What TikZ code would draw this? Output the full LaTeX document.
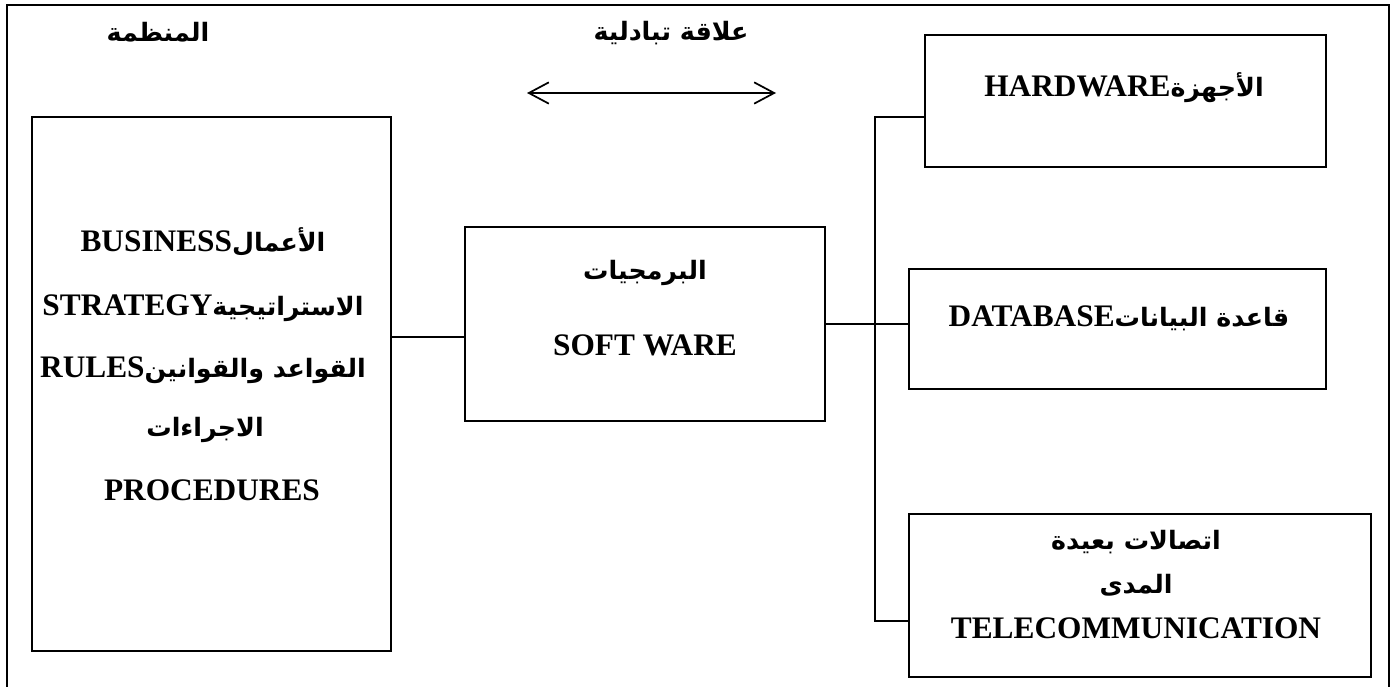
\documentclass[tikz,border=0pt]{standalone}
\usepackage{fontspec}
\setmainfont{Liberation Serif}
\newfontfamily\arabicfont[Script=Arabic]{DejaVu Sans}
\TeXXeTstate=1
\usetikzlibrary{arrows.meta}
\newcommand\artxt[1]{{\arabicfont\bfseries\fontsize{19}{23}\selectfont\beginR #1\endR}}
\newcommand\lattxt[1]{{\bfseries\fontsize{23.5}{28}\selectfont #1}}
\tikzset{
  box/.style={draw, line width=0.8pt, minimum width=#1, inner sep=0pt},
  lbl/.style={inner sep=0pt, anchor=center},
  conn/.style={line width=1.1pt},
  frame/.style={line width=1pt},
}
\begin{document}
\begin{tikzpicture}[x=0.75pt,y=-0.75pt]
\useasboundingbox (0,0) rectangle (1394,686);
\begin{scope}
\clip (0,0) rectangle (1394,686);
\draw[frame] (7,700) -- (7,5) -- (1389,5) -- (1389,700);
\end{scope}

% boxes
\node[box=269.25pt, minimum height=400.5pt] (lbox) at (211.5,384) {};
\node[box=270pt, minimum height=145.5pt] (mid) at (645,324) {};
\node[box=300.75pt, minimum height=99pt] (hw) at (1125.5,101) {};
\node[box=312.75pt, minimum height=90pt] (db) at (1117.5,329) {};
\node[box=346.5pt, minimum height=122.25pt, line width=1pt] (tel) at (1140,595.5) {};

% top labels
\node[lbl] (org) at (158,32) {\artxt{المنظمة}};
\node[lbl] (rel) at (671,33) {\artxt{علاقة تبادلية}};
\coordinate (arL) at (527,93);
\coordinate (arR) at (776,93);
\draw[line width=1.4pt, {Straight Barb[length=15pt,width=16pt,line width=1.3pt]}-{Straight Barb[length=15pt,width=16pt,line width=1.3pt]}] (arL) -- (arR);

% left box text
\node[lbl] (l1) at (203,242) {\lattxt{BUSINESS}\artxt{الأعمال}};
\node[lbl] (l2) at (203,308) {\lattxt{STRATEGY}\artxt{الاستراتيجية}};
\node[lbl] (l3) at (203,370) {\lattxt{RULES}\artxt{القواعد والقوانين}};
\node[lbl] (l4) at (205,430) {\artxt{الاجراءات}};
\node[lbl] (l5) at (212,490) {\lattxt{PROCEDURES}};

% middle
\node[lbl] (m1) at (645,273) {\artxt{البرمجيات}};
\node[lbl] (m2) at (645,345) {\lattxt{SOFT WARE}};

% right
\node[lbl] (h1) at (1124,88) {\lattxt{HARDWARE}\artxt{الأجهزة}};
\node[lbl] (d1) at (1119,318) {\lattxt{DATABASE}\artxt{قاعدة البيانات}};
\node[lbl] (t1) at (1136,542) {\artxt{اتصالات بعيدة}};
\node[lbl] (t2) at (1136,585) {\artxt{المدى}};
\node[lbl] (t3) at (1136,628) {\lattxt{TELECOMMUNICATION}};

% connectors
\coordinate (c1) at (0,337);
\draw[conn] (lbox.east |- c1) -- (mid.west |- c1);
\draw[conn] (mid.east) -- (db.west |- mid.east);
\coordinate (bustop) at (875,117);
\coordinate (busbot) at (875,621);
\draw[conn] (hw.west |- bustop) -- (bustop) -- (busbot) -- (tel.west |- busbot);
\end{tikzpicture}
\end{document}
